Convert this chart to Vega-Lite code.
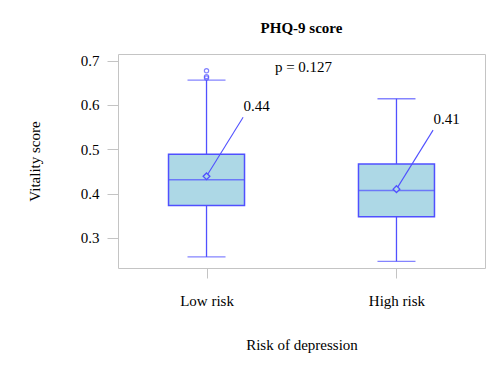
{
 "$schema": "https://vega.github.io/schema/vega-lite/v6.json",
 "width": 367, "height": 214,
 "autosize": {"type": "none"},
 "padding": {"left": 118, "top": 54, "right": 2, "bottom": 98},
 "title": {"text": "PHQ-9 score", "font": "Liberation Serif", "fontSize": 15, "fontWeight": "bold", "color": "#000000", "anchor": "middle", "offset": 18},
 "config": {
  "font": "Liberation Serif",
  "view": {"stroke": "#c4c4c4", "strokeWidth": 1},
  "axis": {"grid": false, "domain": false, "tickColor": "#c4c4c4", "labelFont": "Liberation Serif", "labelFontSize": 15, "labelColor": "#000000", "titleFont": "Liberation Serif", "titleFontSize": 15, "titleFontWeight": "normal", "titleColor": "#000000"}
 },
 "datasets": {
  "boxes": [
   {"risk": "Low risk", "lo": 0.257, "q1": 0.373, "med": 0.431, "q3": 0.4885, "hi": 0.656, "mean": 0.439, "label": "0.44"},
   {"risk": "High risk", "lo": 0.247, "q1": 0.3475, "med": 0.407, "q3": 0.4665, "hi": 0.614, "mean": 0.41, "label": "0.41"}
  ],
  "outliers": [
   {"risk": "Low risk", "value": 0.677},
   {"risk": "Low risk", "value": 0.664},
   {"risk": "Low risk", "value": 0.661}
  ],
  "note": [{"text": "p = 0.127"}]
 },
 "data": {"name": "boxes"},
 "encoding": {
  "x": {"field": "risk", "type": "nominal", "scale": {"type": "point", "domain": ["Low risk", "High risk"], "padding": 0.466},
        "axis": {"title": "Risk of depression", "labelAngle": 0, "tickSize": 10, "labelPadding": 15, "titlePadding": 29}}
 },
 "layer": [
  {"mark": {"type": "rule", "color": "#5050ff", "strokeWidth": 1.3},
   "encoding": {"y": {"field": "lo", "type": "quantitative", "scale": {"domain": [0.232, 0.715], "nice": false, "zero": false},
      "axis": {"title": "Vitality score", "values": [0.3, 0.4, 0.5, 0.6, 0.7], "format": ".1f", "tickSize": 11, "labelPadding": 8, "titlePadding": 38}},
     "y2": {"field": "hi"}}},
  {"mark": {"type": "bar", "size": 76, "fill": "#add8e6", "stroke": "#5050ff", "strokeWidth": 1.5},
   "encoding": {"y": {"field": "q1", "type": "quantitative"}, "y2": {"field": "q3"}}},
  {"mark": {"type": "tick", "size": 38, "thickness": 1.3, "color": "#5050ff"},
   "encoding": {"y": {"field": "lo", "type": "quantitative"}}},
  {"mark": {"type": "tick", "size": 38, "thickness": 1.3, "color": "#5050ff"},
   "encoding": {"y": {"field": "hi", "type": "quantitative"}}},
  {"mark": {"type": "tick", "size": 76, "thickness": 1.5, "color": "#5050ff"},
   "encoding": {"y": {"field": "med", "type": "quantitative"}}},
  {"mark": {"type": "rule", "color": "#5050ff", "strokeWidth": 1.1, "x2Offset": 36.6, "y2Offset": -59},
   "encoding": {"x2": {"field": "risk"}, "y": {"field": "mean", "type": "quantitative"}, "y2": {"field": "mean"}}},
  {"mark": {"type": "point", "shape": "diamond", "filled": false, "size": 45, "strokeWidth": 1.3, "color": "#5050ff", "fill": "#add8e6", "fillOpacity": 1},
   "encoding": {"y": {"field": "mean", "type": "quantitative"}}},
  {"mark": {"type": "text", "align": "left", "baseline": "middle", "dx": 37, "dy": -70, "font": "Liberation Serif", "fontSize": 15, "color": "#000000"},
   "encoding": {"y": {"field": "mean", "type": "quantitative"}, "text": {"field": "label"}}},
  {"data": {"name": "outliers"},
   "mark": {"type": "point", "shape": "circle", "filled": false, "size": 18, "strokeWidth": 1.2, "color": "#5050ff"},
   "encoding": {"y": {"field": "value", "type": "quantitative"}}},
  {"data": {"name": "note"},
   "mark": {"type": "text", "align": "center", "baseline": "middle", "font": "Liberation Serif", "fontSize": 15, "color": "#000000"},
   "encoding": {"x": {"datum": "Low risk", "type": "nominal"}, "xOffset": {"value": 97}, "y": {"datum": 0.685, "type": "quantitative"}, "text": {"field": "text"}}}
 ]
}
